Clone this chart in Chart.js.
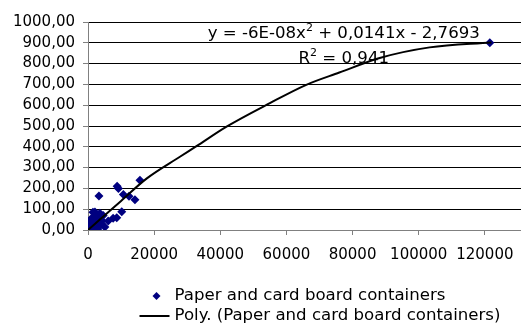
<!DOCTYPE html>
<html>
<head>
<meta charset="utf-8">
<script src="https://cdn.jsdelivr.net/npm/chart.js@4.4.1/dist/chart.umd.min.js"></script>
<style>
html,body{margin:0;padding:0;background:#fff;overflow:hidden;width:521px;height:331px;}
canvas{display:block;}
</style>
</head>
<body>
<canvas id="c" width="640" height="331"></canvas>
<script>
// Scatter data: Paper and card board containers
const pointX = [200,400,600,800,1000,1200,1500,1800,2000,2200,2500,2700,3000,3200,3500,3800,4000,4300,4600,1500,2100,3600,500,1000,300,2500,3000,5100,6100,7600,8700,10200,3300,8800,9200,10700,12400,14200,15700,121500];
const pointY = [5,10,3,20,15,35,25,45,60,30,50,70,40,20,55,65,30,45,70,85,86,80,40,55,25,10,5,14,43,56,59,88,164,210,200,171,162,146,239,900];
// Polynomial trend line
const trendX = [0,10000,17700,27800,32800,41900,55000,66000,76000,88200,103300,122000];
const trendY = [0,140,247,352,403,497,610,698,757,827,878,902];
// Axes
const yTicks = [0,100,200,300,400,500,600,700,800,900,1000];
const xTicks = [0,20000,40000,60000,80000,100000,120000,140000];
const seriesName = 'Paper and card board containers';
const trendName = 'Poly. (Paper and card board containers)';
const eqParts = ['y = -6E-08x','2',' + 0,0141x - 2,7693'];
const r2Parts = ['R','2',' = 0,941'];
const eqAnchor = [77340, 925];
const r2Anchor = [77340, 804];

const FONT = 'DejaVu Sans';
const FS = 15;
const FL = 16.6;

function drawSup(ctx, parts, cx, by){
  ctx.font = FL + 'px "' + FONT + '"';
  const w0 = ctx.measureText(parts[0]).width;
  const w2 = ctx.measureText(parts[2]).width;
  ctx.font = '11px "' + FONT + '"';
  const w1 = ctx.measureText(parts[1]).width;
  const total = w0 + w1 + w2;
  let x = cx - total/2;
  ctx.textAlign = 'left';
  ctx.textBaseline = 'alphabetic';
  ctx.fillStyle = '#000';
  ctx.font = FL + 'px "' + FONT + '"';
  ctx.fillText(parts[0], x, by); x += w0;
  ctx.font = '11px "' + FONT + '"';
  ctx.fillText(parts[1], x, by - 7); x += w1;
  ctx.font = FL + 'px "' + FONT + '"';
  ctx.fillText(parts[2], x, by);
}

const annotate = {
  id: 'annotate',
  afterDatasetsDraw(chart){
    const ctx = chart.ctx, xs = chart.scales.x, ys = chart.scales.y;
    ctx.save();
    drawSup(ctx, eqParts, xs.getPixelForValue(eqAnchor[0]), ys.getPixelForValue(eqAnchor[1]));
    drawSup(ctx, r2Parts, xs.getPixelForValue(r2Anchor[0]), ys.getPixelForValue(r2Anchor[1]));
    ctx.restore();
  },
  afterDraw(chart){
    // legend, items left-aligned in one block centred on the canvas
    const ctx = chart.ctx;
    const ds0 = chart.data.datasets[0], ds1 = chart.data.datasets[1];
    ctx.save();
    ctx.font = FL + 'px "' + FONT + '"';
    const tw = ctx.measureText(ds1.label).width;
    const symW = 30, gap = 5;
    const left = (chart.width - (symW + gap + tw))/2;
    const y1 = chart.height - 35, y2 = chart.height - 15;
    // marker
    const mx = left + 17;
    ctx.fillStyle = ds0.backgroundColor;
    ctx.beginPath();
    const r = 4;
    ctx.moveTo(mx, y1 - r); ctx.lineTo(mx + r, y1); ctx.lineTo(mx, y1 + r); ctx.lineTo(mx - r, y1); ctx.closePath();
    ctx.fill();
    // line
    ctx.strokeStyle = ds1.borderColor;
    ctx.lineWidth = ds1.borderWidth;
    ctx.beginPath(); ctx.moveTo(left, y2); ctx.lineTo(left + symW, y2); ctx.stroke();
    ctx.fillStyle = '#000';
    ctx.textAlign = 'left'; ctx.textBaseline = 'middle';
    ctx.fillText(ds0.label, left + symW + gap, y1);
    ctx.fillText(ds1.label, left + symW + gap, y2);
    ctx.restore();
  }
};

new Chart(document.getElementById('c'), {
  type: 'scatter',
  data: {
    datasets: [
      {
        label: seriesName,
        data: pointX.map((x,i)=>({x:x, y:pointY[i]})),
        pointStyle: 'rectRot',
        pointRadius: 4.5,
        backgroundColor: '#000080',
        borderColor: '#000080',
        borderWidth: 0,
        order: 2
      },
      {
        label: trendName,
        type: 'line',
        data: trendX.map((x,i)=>({x:x, y:trendY[i]})),
        borderColor: '#000',
        borderWidth: 2,
        pointRadius: 0,
        fill: false,
        tension: 0.4,
        cubicInterpolationMode: 'monotone',
        order: 1
      }
    ]
  },
  options: {
    responsive: false,
    animation: false,
    devicePixelRatio: 1,
    layout: { padding: { left: 0, right: 89, top: 22, bottom: 67 } },
    plugins: { legend: { display: false }, tooltip: { enabled: false } },
    scales: {
      x: {
        type: 'linear', min: 0, max: 140000,
        afterBuildTicks(s){ s.ticks = xTicks.map(v=>({value:v})); },
        afterFit(s){ s.height = 34; },
        grid: { drawOnChartArea: false, drawTicks: true, tickLength: 5, tickColor: '#808080' },
        border: { color: '#808080', width: 1 },
        ticks: { color: '#000', font: { family: FONT, size: FS }, padding: 11, maxRotation: 0, autoSkip: false, callback: v => String(v) }
      },
      y: {
        type: 'linear', min: 0, max: 1000,
        afterBuildTicks(s){ s.ticks = yTicks.map(v=>({value:v})); },
        afterFit(s){ s.width = 88; },
        grid: { color: '#000', lineWidth: 1, drawTicks: true, tickLength: 5, tickColor: '#808080' },
        border: { color: '#808080', width: 1 },
        ticks: { color: '#000', font: { family: FONT, size: FS }, padding: 8, autoSkip: false, callback: v => v.toFixed(2).replace('.', ',') }
      }
    }
  },
  plugins: [annotate]
});
</script>
</body>
</html>
